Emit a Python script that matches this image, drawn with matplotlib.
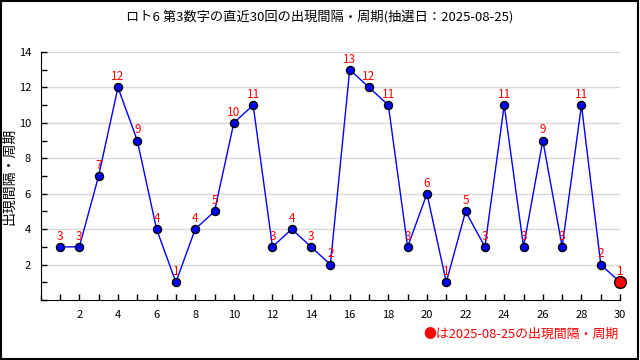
import matplotlib.pyplot as plt
from matplotlib.patches import Rectangle
from matplotlib.ticker import MultipleLocator

plt.rcParams['font.family'] = ['Noto Sans CJK JP', 'DejaVu Sans']

draws = list(range(1, 31))
gaps = [3, 3, 7, 12, 9, 4, 1, 4, 5, 10, 11, 3, 4, 3, 2,
        13, 12, 11, 3, 6, 1, 5, 3, 11, 3, 9, 3, 11, 2, 1]
title = 'ロト6 第3数字の直近30回の出現間隔・周期(抽選日：2025-08-25)'
ylabel = '出現間隔・周期'
note = '●は2025-08-25の出現間隔・周期'

fig = plt.figure(figsize=(6.4, 3.6), dpi=100)
ax = fig.add_axes([0.0636, 0.1667, 0.9053, 0.6889])

# frame round the whole picture
fig.patches.append(Rectangle((0.001, 0.004), 0.996, 0.994, transform=fig.transFigure,
                             fill=False, edgecolor='black', linewidth=1.5))

ax.plot(draws, gaps, color='#0000ff', linewidth=1, marker='o', markersize=5.8,
        markerfacecolor='#0000ff', markeredgecolor='black', markeredgewidth=1, zorder=3)
ax.plot(draws[-1:], gaps[-1:], linestyle='none', marker='o', markersize=8.5,
        markerfacecolor='#ff0000', markeredgecolor='black', markeredgewidth=1,
        zorder=4, clip_on=False)

for x, y in zip(draws, gaps):
    ax.annotate(str(y), (x, y), xytext=(0, 3), textcoords='offset points',
                ha='center', va='bottom', color='#ff0000', fontsize=8.5, zorder=5)

ax.set_xlim(0, 30)
ax.set_ylim(0, 14)
ax.xaxis.set_minor_locator(MultipleLocator(1))
ax.yaxis.set_minor_locator(MultipleLocator(1))
ax.set_xticks(range(2, 31, 2))
ax.set_yticks(range(2, 15, 2))
ax.tick_params(which='both', direction='in', length=4, width=1, labelsize=8, pad=7)
ax.grid(axis='y', which='major', color='#d8d8d8', linewidth=1)
ax.set_axisbelow(True)
for s in ('top', 'right'):
    ax.spines[s].set_visible(False)

fig.text(0.015, 0.51, ylabel, rotation=90, ha='center', va='center', fontsize=10)
fig.text(0.5, 0.955, title, ha='center', va='center', fontsize=9.5)
fig.text(0.966, 0.072, note, ha='right', va='center', color='#ff0000', fontsize=9.3)

fig.savefig('out.png', dpi=100)
